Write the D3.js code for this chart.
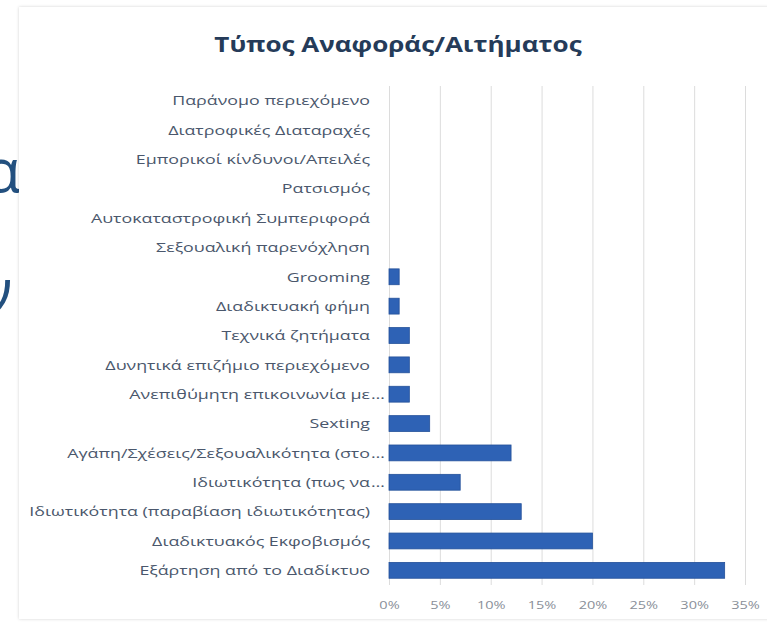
<!DOCTYPE html>
<html>
<head>
<meta charset="utf-8">
<script src="https://cdn.jsdelivr.net/npm/d3@7/dist/d3.min.js"></script>
<style>
  html, body { margin: 0; padding: 0; background: #ffffff; }
  svg { display: block; }
</style>
</head>
<body>
<svg id="chart" width="767" height="624"></svg>
<script>
// Report categories, top to bottom
const categories = [
  "Παράνομο περιεχόμενο",
  "Διατροφικές Διαταραχές",
  "Εμπορικοί κίνδυνοι/Απειλές",
  "Ρατσισμός",
  "Αυτοκαταστροφική Συμπεριφορά ",
  "Σεξουαλική παρενόχληση",
  "Grooming",
  "Διαδικτυακή φήμη",
  "Τεχνικά ζητήματα",
  "Δυνητικά επιζήμιο περιεχόμενο",
  "Ανεπιθύμητη επικοινωνία με…",
  "Sexting",
  "Αγάπη/Σχέσεις/Σεξουαλικότητα (στο…",
  "Ιδιωτικότητα (πως να…",
  "Ιδιωτικότητα (παραβίαση ιδιωτικότητας)",
  "Διαδικτυακός Εκφοβισμός",
  "Εξάρτηση από το Διαδίκτυο"
];
// Share of reports per category
const values = [0, 0, 0, 0, 0, 0, 0.01, 0.01, 0.02, 0.02, 0.02, 0.04, 0.12, 0.07, 0.13, 0.20, 0.33];
// Horizontal axis ticks
const xTicks = [0, 0.05, 0.10, 0.15, 0.20, 0.25, 0.30, 0.35];
const chartTitle = "Τύπος Αναφοράς/Αιτήματος";

// text in this chart is drawn slightly widened
const STRETCH = 1.32;

const svg = d3.select("#chart");

// slide text peeking out behind the chart panel
const slide = svg.append("g").attr("fill", "#23507f")
  .style("font-family", "'Open Sans', sans-serif").style("font-size", "60px");
slide.append("text").attr("x", -16).attr("y", 192).text("α");
slide.append("text").attr("x", -20).attr("y", 312).text("ν");

// chart panel with a soft edge
const defs = svg.append("defs");
const sh = defs.append("filter").attr("id", "soft").attr("x", "-5%").attr("y", "-5%").attr("width", "110%").attr("height", "110%");
sh.append("feGaussianBlur").attr("in", "SourceAlpha").attr("stdDeviation", 1.5).attr("result", "b");
sh.append("feFlood").attr("flood-color", "#000").attr("flood-opacity", 0.18);
sh.append("feComposite").attr("in2", "b").attr("operator", "in").attr("result", "s");
const fm = sh.append("feMerge");
fm.append("feMergeNode").attr("in", "s");
fm.append("feMergeNode").attr("in", "SourceGraphic");

svg.append("rect")
  .attr("x", 19).attr("y", 7).attr("width", 770).attr("height", 612)
  .attr("fill", "#ffffff").attr("filter", "url(#soft)");

// scales
const x = d3.scaleLinear().domain([0, 0.35]).range([389, 745]);
const y = d3.scaleBand().domain(categories).range([86, 585]).paddingInner(0.46).paddingOuter(0.23);

// vertical gridlines
svg.append("g")
  .attr("transform", "translate(0,585)")
  .call(d3.axisBottom(x).tickValues(xTicks).tickSize(-499).tickFormat(""))
  .call(g => g.select(".domain").remove())
  .call(g => g.selectAll("line").attr("stroke", "#dcdcdc").attr("stroke-width", 1));

// bars
svg.append("g").selectAll("rect")
  .data(categories.map((c, i) => ({ c, v: values[i] })).filter(d => d.v > 0))
  .join("rect")
  .attr("x", x(0))
  .attr("y", d => y(d.c))
  .attr("width", d => x(d.v) - x(0))
  .attr("height", y.bandwidth())
  .attr("fill", "#2e62b5")
  .attr("stroke", "#24519a").attr("stroke-width", 0.8);

// category labels
const lab = svg.append("g")
  .style("font-family", "'Open Sans', sans-serif")
  .style("font-size", "13.5px")
  .attr("fill", "#4a576c");
categories.forEach(c => {
  const cy = y(c) + y.bandwidth() / 2;
  const cut = c.endsWith("…");
  const main = cut ? c.slice(0, -1) : c;
  lab.append("text")
    .attr("transform", `translate(370,${cy}) scale(${STRETCH},1)`)
    .attr("dy", "0.35em")
    .attr("text-anchor", "end").text(main);
  if (cut) {
    lab.append("text")
      .attr("transform", `translate(371,${cy}) scale(${STRETCH},1)`)
      .attr("dy", "0.35em").text("…");
  }
});

// tick labels
svg.append("g")
  .attr("transform", "translate(0,598)")
  .call(d3.axisBottom(x).tickValues(xTicks).tickSize(0).tickFormat(d3.format(".0%")))
  .call(g => g.select(".domain").remove())
  .call(g => g.selectAll("text")
    .attr("fill", "#8a8f99")
    .attr("transform", `scale(${STRETCH},1)`)
    .style("font-family", "'Open Sans', sans-serif")
    .style("font-size", "11px"));

// title
svg.append("text")
  .attr("transform", `translate(398,52) scale(1.24,1)`)
  .attr("text-anchor", "middle")
  .attr("fill", "#253b59")
  .style("font-family", "'Open Sans', sans-serif")
  .style("font-weight", "bold")
  .style("font-size", "21px")
  .text(chartTitle);
</script>
</body>
</html>
